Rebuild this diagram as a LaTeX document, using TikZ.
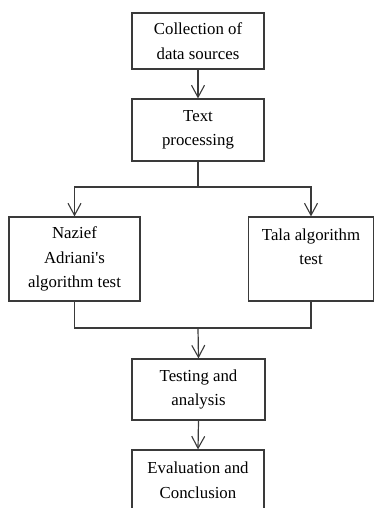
\documentclass[tikz,border=0pt]{standalone}
\usepackage{fontspec}
\setmainfont{Liberation Serif}
\usetikzlibrary{arrows.meta}
\definecolor{ln}{HTML}{3A3A3A}
\begin{document}
\begin{tikzpicture}[x=1pt,y=1pt,
  box/.style={draw=ln,line width=1.2pt,inner sep=0pt,align=center,
    font=\fontsize{16.8}{24.6}\selectfont,text=black},
  conn/.style={draw=ln,line width=1.2pt},
  arr/.style={conn,-{Straight Barb[length=12pt,width=13pt,line width=1.1pt]}}]
\useasboundingbox (0,0) rectangle (374,-508);
\clip (0,0) rectangle (374,-508);
\node[box,minimum width=132,minimum height=56] (b1) at (198,-41) {Collection of\\data sources};
\node[box,minimum width=132,minimum height=62] (b2) at (198,-130) {Text\\processing};
\node[box,minimum width=131,minimum height=84] (b3) at (74.5,-259) {Nazief\\Adriani\textquotesingle s\\algorithm test};
\node[box,minimum width=125,minimum height=84] (b4) at (311,-259) {Tala algorithm\\test\\\mbox{}};
\node[box,minimum width=133,minimum height=61] (b5) at (198.5,-389.5) {Testing and\\analysis};
\node[box,minimum width=132,minimum height=61] (b6) at (198,-480.5) {Evaluation and\\Conclusion};
\coordinate (j1) at (198,-187);
\coordinate (j2) at (198,-328);
\draw[arr] (b1.south) -- (b2.north);
\draw[conn] (b2.south) -- (j1);
\draw[arr] (j1) -| (b3.north);
\draw[arr] (j1) -| (b4.north);
\draw[conn] (b3.south) |- (j2) -| (b4.south);
\draw[arr] (j2) -- (b5.north);
\draw[arr] (b5.south) -- (b6.north);
\end{tikzpicture}
\end{document}
